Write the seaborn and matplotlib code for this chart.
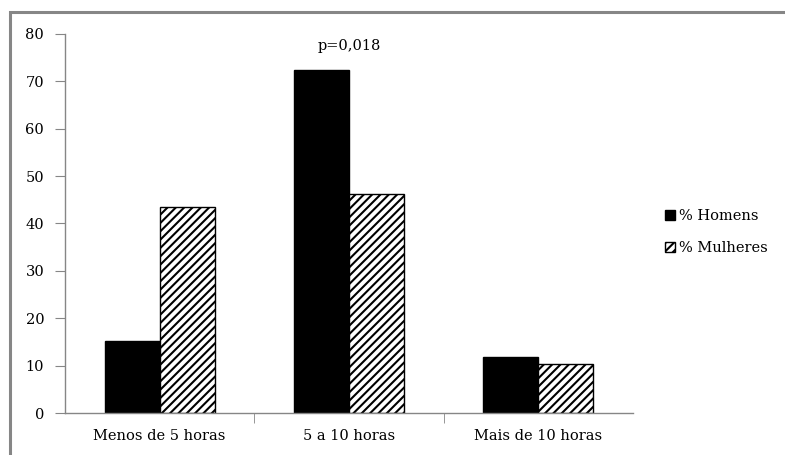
import pandas as pd
import seaborn as sns
import matplotlib.pyplot as plt
from matplotlib.patches import Rectangle, Patch

categorias = ['Menos de 5 horas', '5 a 10 horas', 'Mais de 10 horas']
homens = [15.2, 72.4, 11.9]
mulheres = [43.4, 46.3, 10.4]
series = ['% Homens', '% Mulheres']
anotacao = 'p=0,018'

df = pd.DataFrame({
    'categoria': categorias * 2,
    'valor': homens + mulheres,
    'grupo': [series[0]] * 3 + [series[1]] * 3,
})

sns.set_style('white')
plt.rcParams['font.family'] = ['DejaVu Serif', 'Liberation Serif']
plt.rcParams['hatch.linewidth'] = 1.5
plt.rcParams['text.color'] = 'black'
plt.rcParams['xtick.color'] = 'black'
plt.rcParams['ytick.color'] = 'black'

fs = 10.5

fig = plt.figure(figsize=(7.85, 4.55), dpi=100)
ax = fig.add_axes([0.0828, 0.0923, 0.7236, 0.833])

sns.barplot(data=df, x='categoria', y='valor', hue='grupo', order=categorias,
            hue_order=series, palette=['black', 'white'], width=0.58,
            edgecolor='black', linewidth=1.0, ax=ax, legend=False)

# hachura nas barras das mulheres
for bar in ax.containers[1]:
    bar.set_hatch('////')
    bar.set_edgecolor('black')

ax.set_ylim(0, 80)
ax.set_yticks(range(0, 81, 10))
ax.set_xlim(-0.5, 2.5)
ax.set_xlabel('')
ax.set_ylabel('')

cinza = '#868686'
for lado in ['top', 'right']:
    ax.spines[lado].set_visible(False)
for lado in ['left', 'bottom']:
    ax.spines[lado].set_color(cinza)
    ax.spines[lado].set_linewidth(1.0)

ax.tick_params(axis='y', which='both', left=True, length=7, color=cinza,
               labelcolor='black', labelsize=fs, pad=8)
ax.tick_params(axis='x', bottom=False, labelcolor='black', labelsize=fs, pad=8)
ax.set_xticks([0.5, 1.5], minor=True)
ax.tick_params(axis='x', which='minor', bottom=True, length=7, color=cinza)

ax.text(1, 77.5, anotacao, ha='center', va='center', fontsize=fs, color='black')

handles = [Patch(facecolor='black', edgecolor='black'),
           Patch(facecolor='white', edgecolor='black', hatch='////')]
leg = fig.legend(handles, series, loc='center left', bbox_to_anchor=(0.83, 0.49),
                 frameon=False, fontsize=fs, handlelength=0.7, handleheight=0.7,
                 handletextpad=0.3, labelspacing=1.25)
for t in leg.get_texts():
    t.set_color('black')

# moldura externa
fig.patches.append(Rectangle((10 / 785, -0.1), 1.2, 1.1 - 12 / 455,
                             transform=fig.transFigure, fill=False,
                             edgecolor=cinza, linewidth=2.2))

fig.savefig('out.png', dpi=100)
